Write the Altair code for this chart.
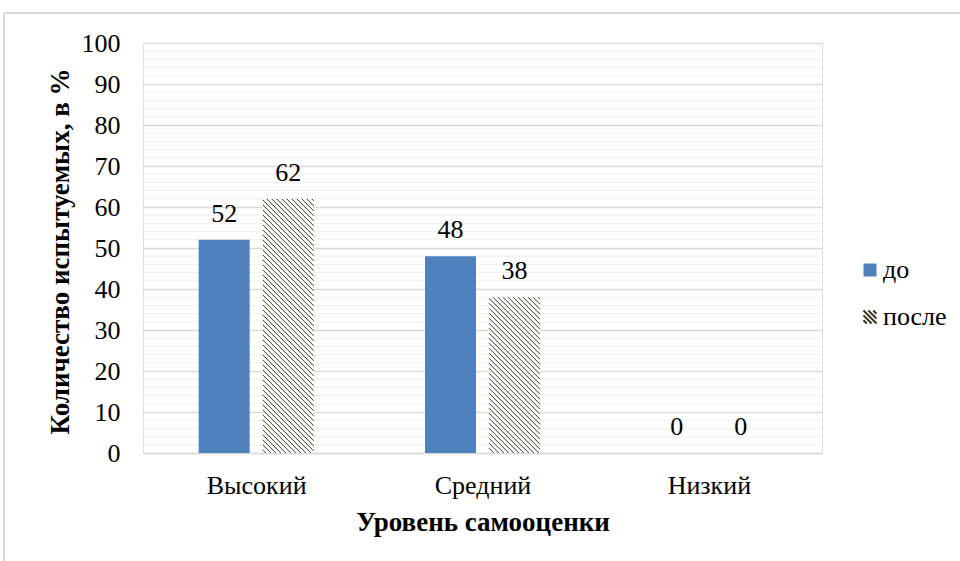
import altair as alt
import pandas as pd

# ---------------- data ----------------
categories = ["Высокий", "Средний", "Низкий"]
series = ["до", "после"]
before = [52, 48, 0]
after = [62, 38, 0]

# ---------------- style / layout ----------------
FONT = "Liberation Serif, Times New Roman, serif"
FS = 26
FT = 27
W, H = 679, 410           # plot area in px
LEFT, TOP = 143, 43
PX_X = W / len(categories)   # px per category unit
PX_Y = H / 100.0             # px per percent
BAR_PX = 51
OFFSET_PX = 32
HATCH_STEP = 5.0
BLUE = "#4f81bd"
HATCH = "#3d3420"

rows = []
for i, c in enumerate(categories):
    for s, vals, sgn in ((series[0], before, -1), (series[1], after, 1)):
        center = i + 0.5 + sgn * OFFSET_PX / PX_X
        rows.append({
            "cat": c, "series": s, "value": vals[i], "center": center,
            "x0": center - BAR_PX / 2 / PX_X, "x1": center + BAR_PX / 2 / PX_X,
        })
bars = pd.DataFrame(rows)

# hatch segments for the "после" bars (derived from bar values)
hrows = []
for r in rows:
    if r["series"] != series[1] or r["value"] <= 0:
        continue
    w = BAR_PX
    h = r["value"] * PX_Y
    k = -w + 2
    while k < h:
        u0 = max(0.0, -k)
        u1 = min(w, h - k)
        if u1 > u0:
            hrows.append({
                "x": r["x0"] + u0 / PX_X, "x2": r["x0"] + u1 / PX_X,
                "y": r["value"] - (u0 + k) / PX_Y, "y2": r["value"] - (u1 + k) / PX_Y,
            })
        k += HATCH_STEP
hatch = pd.DataFrame(hrows)

minor = pd.DataFrame({"v": [v for v in range(0, 101, 2) if v % 10]})


# legend hatch symbol path (diagonal strips in the [-1,1] box)
def hatch_path():
    parts = []
    t = 0.11
    for c in (-1.5, -0.75, 0.0, 0.75, 1.5):
        a0 = max(-1.0, -1.0 - c)
        a1 = min(1.0, 1.0 - c)
        if a1 <= a0:
            continue
        p = [(a0 - t, a0 + c + t), (a0 + t, a0 + c - t), (a1 + t, a1 + c - t), (a1 - t, a1 + c + t)]
        parts.append("M" + " L".join(f"{x:.2f},{y:.2f}" for x, y in p) + " Z")
    return " ".join(parts)


x_scale = alt.Scale(domain=[0, len(categories)], nice=False, zero=False)
y_scale = alt.Scale(domain=[0, 100], nice=False)

label_expr = "[" + ",".join(f"'{c}'" for c in categories) + "][floor(datum.value)]"

x_axis = alt.Axis(
    values=[i + 0.5 for i in range(len(categories))], labelExpr=label_expr,
    ticks=False, grid=False, domain=True, domainColor="#d9d9d9", domainWidth=1.5,
    labelFont=FONT, labelFontSize=FS, labelColor="#000", labelPadding=19,
    title="Уровень самооценки", titleFont=FONT, titleFontSize=FT,
    titleFontWeight="bold", titleColor="#000", titleY=69, titleBaseline="middle",
)
y_axis = alt.Axis(
    values=list(range(0, 101, 10)), ticks=False, domain=False,
    grid=True, gridColor="#d9d9d9", gridWidth=1.5,
    labelFont=FONT, labelFontSize=FS, labelColor="#000", labelPadding=23,
    title="Количество испытуемых, в %", titleFont=FONT, titleFontSize=FT,
    titleFontWeight="bold", titleColor="#000",
    titleX=-83, titleY=H / 2 + 3, titleBaseline="middle", titleAlign="center",
)

base = alt.Chart(bars)

minor_grid = alt.Chart(minor).mark_rule(color="#efefef", strokeWidth=1).encode(
    y=alt.Y("v:Q", scale=y_scale, axis=y_axis)
)

bars_before = base.transform_filter(alt.datum.series == series[0]).mark_rect(fill=BLUE).encode(
    x=alt.X("x0:Q", scale=x_scale, axis=x_axis),
    x2="x1:Q",
    y=alt.Y("value:Q", scale=y_scale, axis=y_axis),
    y2=alt.datum(0),
)
bars_after = base.transform_filter(alt.datum.series == series[1]).mark_rect(fill="#ffffff").encode(
    x=alt.X("x0:Q", scale=x_scale),
    x2="x1:Q",
    y=alt.Y("value:Q", scale=y_scale),
    y2=alt.datum(0),
)

hatch_layer = alt.Chart(hatch).mark_rule(color=HATCH, strokeWidth=1.0).encode(
    x=alt.X("x:Q", scale=x_scale), x2="x2:Q",
    y=alt.Y("y:Q", scale=y_scale), y2="y2:Q",
)

text_layer = base.mark_text(font=FONT, fontSize=FS, color="#000", baseline="bottom", dy=-13).encode(
    x=alt.X("center:Q", scale=x_scale),
    y=alt.Y("value:Q", scale=y_scale),
    text="value:Q",
)

leg = alt.Legend(
    title=None, orient="none", legendX=714, legendY=214,
    symbolSize=169, labelFont=FONT, labelFontSize=FS, labelColor="#000",
    labelOffset=0, rowPadding=21, symbolStrokeWidth=0,
)
legend_layer = base.mark_point(filled=True, size=0, opacity=1).encode(
    x=alt.X("center:Q", scale=x_scale),
    y=alt.Y("value:Q", scale=y_scale),
    color=alt.Color("series:N", scale=alt.Scale(domain=series, range=[BLUE, HATCH]), legend=leg),
    shape=alt.Shape("series:N", scale=alt.Scale(domain=series, range=["square", hatch_path()]), legend=leg),
)

frame = alt.Chart(bars).mark_rule(color="#d9d9d9", strokeWidth=1.5).encode(
    x=alt.value(4 - LEFT), y=alt.value(13 - TOP), y2=alt.value(561 - TOP)
)
frame_top = alt.Chart(bars).mark_rule(color="#d9d9d9", strokeWidth=1.5).encode(
    x=alt.value(4 - LEFT), x2=alt.value(960 - LEFT), y=alt.value(13 - TOP)
)

chart = alt.layer(
    minor_grid, bars_before, bars_after, hatch_layer, text_layer, legend_layer, frame, frame_top
).properties(
    width=W, height=H,
    autosize=alt.AutoSizeParams(type="none"),
    padding={"left": LEFT, "top": TOP, "right": 960 - LEFT - W, "bottom": 561 - TOP - H},
).configure_view(stroke=None).configure(background="white")

chart.save("out.html", embed_options={"renderer": "svg", "actions": False})
